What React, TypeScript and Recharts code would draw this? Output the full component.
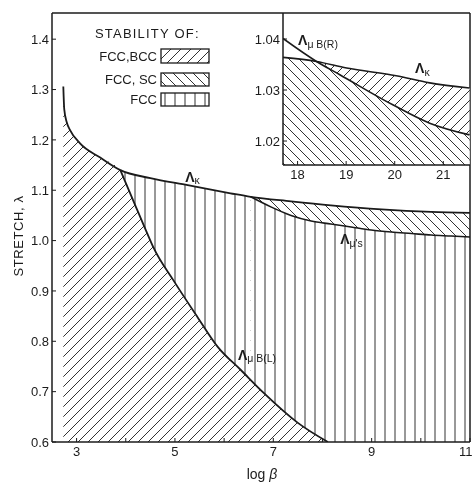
import React from 'react';
import { ComposedChart, Area, Line, XAxis, YAxis, ReferenceLine, ReferenceDot, Label } from 'recharts';

// curves: x = log beta, y = stretch lambda
const kappaCurve = [
  { x: 2.73, y: 1.306 }, { x: 2.75, y: 1.26 }, { x: 2.8, y: 1.235 }, { x: 2.87, y: 1.219 },
  { x: 3.07, y: 1.193 }, { x: 3.48, y: 1.165 }, { x: 3.89, y: 1.14 }, { x: 4.5, y: 1.124 },
  { x: 5.26, y: 1.11 }, { x: 6.13, y: 1.094 }, { x: 6.54, y: 1.087 }, { x: 7.36, y: 1.078 },
  { x: 8.17, y: 1.07 }, { x: 9.2, y: 1.062 }, { x: 10.21, y: 1.057 }, { x: 11, y: 1.055 },
];
const muSCurve = [
  { x: 6.54, y: 1.087 }, { x: 6.95, y: 1.067 }, { x: 7.36, y: 1.05 }, { x: 7.77, y: 1.039 },
  { x: 8.17, y: 1.033 }, { x: 8.58, y: 1.027 }, { x: 8.99, y: 1.021 }, { x: 9.4, y: 1.017 },
  { x: 9.81, y: 1.014 }, { x: 10.21, y: 1.011 }, { x: 10.62, y: 1.009 }, { x: 11, y: 1.007 },
];
const muBLCurve = [
  { x: 3.89, y: 1.14 }, { x: 4.15, y: 1.08 }, { x: 4.5, y: 1.0 }, { x: 4.56, y: 0.987 },
  { x: 4.97, y: 0.921 }, { x: 5.46, y: 0.848 }, { x: 5.87, y: 0.789 }, { x: 6.34, y: 0.743 },
  { x: 6.81, y: 0.697 }, { x: 7.5, y: 0.638 }, { x: 8.11, y: 0.6 },
];
// inset
const kappaInset = [
  { x: 17.7, y: 1.0364 }, { x: 18.39, y: 1.0356 }, { x: 19.01, y: 1.0343 },
  { x: 20.03, y: 1.0328 }, { x: 20.72, y: 1.0314 }, { x: 21.54, y: 1.0304 },
];
const muBRInset = [
  { x: 17.7, y: 1.0401 }, { x: 18.39, y: 1.0356 }, { x: 18.87, y: 1.033 },
  { x: 19.96, y: 1.0271 }, { x: 20.72, y: 1.0235 }, { x: 21.54, y: 1.0212 },
];

const xTicks = [3, 4, 5, 6, 7, 8, 9, 10, 11];
const yTicks = [0.6, 0.7, 0.8, 0.9, 1.0, 1.1, 1.2, 1.3, 1.4];
const insetXTicks = [18, 19, 20, 21];
const insetYTicks = [1.02, 1.03, 1.04];

const ink = '#1b1b1b';
const font = '"Liberation Sans", Arial, sans-serif';

// region outlines built from the curves above
const crossMain = kappaCurve.findIndex(p => p.x === muBLCurve[0].x);
const bccRegion = [...kappaCurve.slice(0, crossMain), ...muBLCurve];
const scBand = kappaCurve.filter(p => p.x >= muSCurve[0].x);
const crossInset = kappaInset.findIndex(p => p.x === 18.39);
const scInset = [...kappaInset.slice(0, crossInset), ...muBRInset.slice(crossInset)];

const Hatches = ({ p }: { p: string }) => (
  <defs>
    <pattern id={`${p}-fwd`} patternUnits="userSpaceOnUse" width={10} height={10}>
      <rect width={10} height={10} fill="#fff" />
      <path d="M0,10 L10,0 M-1,1 L1,-1 M9,11 L11,9" stroke={ink} strokeWidth={0.9} />
    </pattern>
    <pattern id={`${p}-back`} patternUnits="userSpaceOnUse" width={10} height={10}>
      <rect width={10} height={10} fill="#fff" />
      <path d="M0,0 L10,10 M-1,9 L1,11 M9,-1 L11,1" stroke={ink} strokeWidth={0.9} />
    </pattern>
    <pattern id={`${p}-vert`} patternUnits="userSpaceOnUse" width={10} height={10}>
      <rect width={10} height={10} fill="#fff" />
      <path d="M5,0 L5,10" stroke={ink} strokeWidth={0.9} />
    </pattern>
  </defs>
);

const CurveTag = (props: any) => {
  const { viewBox, sub } = props;
  return (
    <text x={viewBox.x} y={viewBox.y} fill={ink} fontFamily={font} fontSize={14} fontWeight="bold">
      Λ<tspan fontSize={10.5} fontWeight="normal" dy={2.5}>{sub}</tspan>
    </text>
  );
};

const tickStyle = { fill: ink, fontSize: 13, fontFamily: font };
const axisStyle = { stroke: ink, strokeWidth: 1.5 };

const Legend = () => (
  <svg width={230} height={115} style={{ position: 'absolute', left: 0, top: 0 }}>
    <Hatches p="lg" />
    <text x={95} y={38} fontSize={13} fontFamily={font} fill={ink} letterSpacing={1.2}>STABILITY OF:</text>
    {[
      { name: 'FCC,BCC', fill: 'url(#lg-fwd)', y: 49, h: 14 },
      { name: 'FCC, SC', fill: 'url(#lg-back)', y: 73, h: 13 },
      { name: 'FCC', fill: 'url(#lg-vert)', y: 93, h: 13 },
    ].map(r => (
      <g key={r.name}>
        <text x={157} y={r.y + r.h - 2} textAnchor="end" fontSize={13} fontFamily={font} fill={ink}>{r.name}</text>
        <rect x={161} y={r.y} width={48} height={r.h} fill={r.fill} stroke={ink} strokeWidth={1.3} />
      </g>
    ))}
  </svg>
);

export default function App() {
  return (
    <div style={{ position: 'absolute', left: 0, top: 0, width: 472, height: 484, background: '#fff', filter: 'grayscale(1)' }}>
      <ComposedChart width={472} height={484} margin={{ top: 13, right: 2, bottom: 12, left: 12 }}>
        <Hatches p="mn" />
        <XAxis type="number" dataKey="x" domain={[2.5, 11]} ticks={xTicks} allowDataOverflow
          tickFormatter={(v: number) => (v % 2 === 1 ? String(v) : '')}
          tickSize={-4} tickMargin={9} height={30} tick={tickStyle} axisLine={axisStyle} tickLine={{ stroke: ink }}>
          <Label content={() => (
            <text x={262} y={479} textAnchor="middle" fontSize={14} fontFamily={font} fill={ink}>
              log <tspan fontStyle="italic">β</tspan>
            </text>
          )} />
        </XAxis>
        <YAxis type="number" dataKey="y" domain={[0.6, 1.452]} ticks={yTicks} allowDataOverflow
          tickFormatter={(v: number) => v.toFixed(1)}
          tickSize={-4} tickMargin={7} width={40} tick={tickStyle} axisLine={axisStyle} tickLine={{ stroke: ink }}>
          <Label content={() => (
            <text x={18} y={236} transform="rotate(-90 18 236)"
              textAnchor="middle" dominantBaseline="central" fontSize={13} fontFamily={font} fill={ink} letterSpacing={0.6}>
              STRETCH, λ
            </text>
          )} />
        </YAxis>
        <Area data={kappaCurve} dataKey="y" type="monotone" baseValue="dataMin" fill="url(#mn-vert)" fillOpacity={1} stroke="none" isAnimationActive={false} />
        <Area data={scBand} dataKey="y" type="monotone" baseValue="dataMin" fill="url(#mn-back)" fillOpacity={1} stroke="none" isAnimationActive={false} />
        <Area data={muSCurve} dataKey="y" type="monotone" baseValue="dataMin" fill="url(#mn-vert)" fillOpacity={1} stroke="none" isAnimationActive={false} />
        <Area data={bccRegion} dataKey="y" type="monotone" baseValue="dataMin" fill="url(#mn-fwd)" fillOpacity={1} stroke="none" isAnimationActive={false} />
        <Line data={kappaCurve} dataKey="y" type="monotone" stroke={ink} strokeWidth={1.8} dot={false} isAnimationActive={false} />
        <Line data={muSCurve} dataKey="y" type="monotone" stroke={ink} strokeWidth={1.6} dot={false} isAnimationActive={false} />
        <Line data={muBLCurve} dataKey="y" type="monotone" stroke={ink} strokeWidth={1.8} dot={false} isAnimationActive={false} />
        <ReferenceLine y={1.452} stroke={ink} strokeWidth={1.5} />
        <ReferenceLine x={11} stroke={ink} strokeWidth={1.5} />
        <ReferenceDot x={5.21} y={1.117} r={0} fill="none" stroke="none" label={<CurveTag sub="κ" />} />
        <ReferenceDot x={8.36} y={0.993} r={0} fill="none" stroke="none" label={<CurveTag sub="μ's" />} />
        <ReferenceDot x={6.28} y={0.763} r={0} fill="none" stroke="none" label={<CurveTag sub="μ B(L)" />} />
      </ComposedChart>

      <Legend />

      <div style={{ position: 'absolute', left: 240, top: 0 }}>
        <ComposedChart width={232} height={190} margin={{ top: 13, right: 2, bottom: 0, left: 0 }}>
          <Hatches p="in" />
          <XAxis type="number" dataKey="x" domain={[17.7, 21.55]} ticks={insetXTicks} allowDataOverflow
            tickSize={-4} tickMargin={9} height={25} tick={tickStyle} axisLine={axisStyle} tickLine={{ stroke: ink }} />
          <YAxis type="number" dataKey="y" domain={[1.0153, 1.0451]} ticks={insetYTicks} allowDataOverflow
            tickFormatter={(v: number) => v.toFixed(2)}
            tickSize={-4} tickMargin={7} width={43} tick={tickStyle} axisLine={axisStyle} tickLine={{ stroke: ink }} />
          <Area data={kappaInset} dataKey="y" type="monotone" baseValue="dataMin" fill="url(#in-fwd)" fillOpacity={1} stroke="none" isAnimationActive={false} />
          <Area data={scInset} dataKey="y" type="monotone" baseValue="dataMin" fill="url(#in-back)" fillOpacity={1} stroke="none" isAnimationActive={false} />
          <Line data={kappaInset} dataKey="y" type="monotone" stroke={ink} strokeWidth={1.6} dot={false} isAnimationActive={false} />
          <Line data={muBRInset} dataKey="y" type="monotone" stroke={ink} strokeWidth={1.6} dot={false} isAnimationActive={false} />
          <ReferenceDot x={18.01} y={1.0388} r={0} fill="none" stroke="none" label={<CurveTag sub="μ B(R)" />} />
          <ReferenceDot x={20.42} y={1.0333} r={0} fill="none" stroke="none" label={<CurveTag sub="κ" />} />
        </ComposedChart>
      </div>
    </div>
  );
}
